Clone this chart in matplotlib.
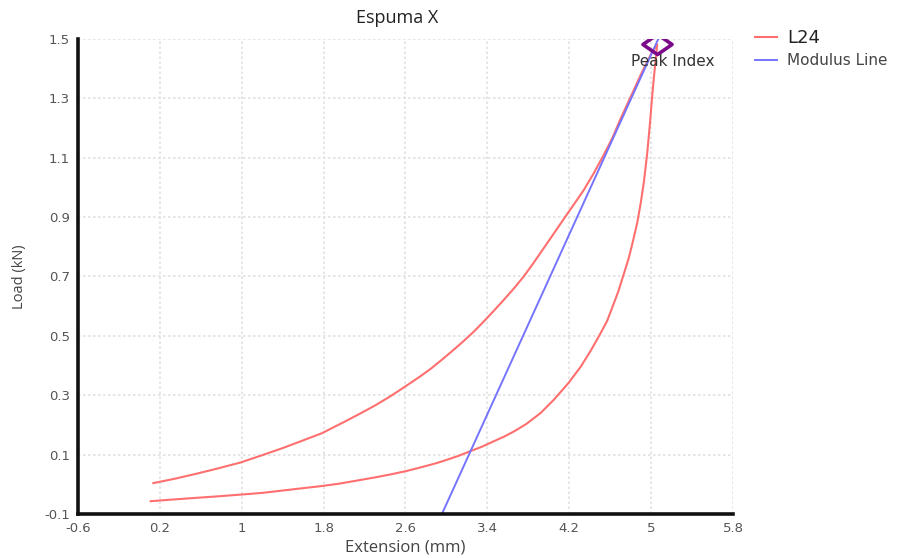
import matplotlib
matplotlib.use("Agg")
import matplotlib.pyplot as plt
from matplotlib.path import Path

# Load-extension loop for sample L24: loading branch (lower) ...
loading_x = [0.11, 0.3, 0.5, 0.75, 0.98, 1.2, 1.4, 1.6, 1.78, 1.95, 2.1, 2.3,
             2.45, 2.6, 2.75, 2.9, 3.0, 3.12, 3.23, 3.35, 3.45, 3.56, 3.66, 3.78,
             3.92, 4.05, 4.19, 4.31, 4.41, 4.5, 4.57, 4.62, 4.68, 4.73, 4.78,
             4.82, 4.864, 4.9, 4.93, 4.962, 4.99, 5.01, 5.03, 5.045, 5.06]
loading_y = [-0.057, -0.052, -0.047, -0.041, -0.035, -0.029, -0.021, -0.013,
             -0.006, 0.002, 0.011, 0.023, 0.033, 0.044, 0.057, 0.071, 0.082,
             0.096, 0.111, 0.127, 0.143, 0.16, 0.178, 0.203, 0.24, 0.285, 0.34,
             0.395, 0.45, 0.505, 0.55, 0.595, 0.65, 0.705, 0.76, 0.815, 0.88,
             0.95, 1.02, 1.115, 1.22, 1.306, 1.38, 1.43, 1.482]
# ... and unloading branch (upper), from the peak back down
unloading_x = [5.06, 5.0, 4.9, 4.8, 4.7, 4.62, 4.53, 4.44, 4.34, 4.25, 4.163,
               4.05, 3.95, 3.85, 3.755, 3.66, 3.56, 3.47, 3.38, 3.27, 3.16, 3.06,
               2.957, 2.85, 2.75, 2.6, 2.45, 2.3, 2.15, 2.0, 1.783, 1.6, 1.4,
               1.2, 0.984, 0.75, 0.55, 0.35, 0.136]
unloading_y = [1.482, 1.45, 1.38, 1.305, 1.23, 1.165, 1.105, 1.048, 0.99, 0.945,
               0.902, 0.845, 0.795, 0.745, 0.700, 0.66, 0.621, 0.587, 0.554,
               0.515, 0.48, 0.45, 0.42, 0.39, 0.365, 0.33, 0.296, 0.265, 0.237,
               0.21, 0.172, 0.148, 0.122, 0.098, 0.073, 0.052, 0.035, 0.019,
               0.004]

# Modulus line end points
modulus_x = [2.956, 5.07]
modulus_y = [-0.1, 1.5]

# Peak point
peak_x = 5.06
peak_y = 1.482

x_ticks = [-0.6, 0.2, 1, 1.8, 2.6, 3.4, 4.2, 5, 5.8]
x_tick_labels = ["-0.6", "0.2", "1", "1.8", "2.6", "3.4", "4.2", "5", "5.8"]
y_ticks = [-0.1, 0.1, 0.3, 0.5, 0.7, 0.9, 1.1, 1.3, 1.5]
y_tick_labels = ["-0.1", "0.1", "0.3", "0.5", "0.7", "0.9", "1.1", "1.3", "1.5"]

plt.rcParams["font.family"] = ["DejaVu Sans"]

fig = plt.figure(figsize=(9.02, 5.58), dpi=100)
ax = fig.add_axes([0.0865, 0.0789, 0.7261, 0.8512])

red = "#ff6f6f"
blue = "#7474ff"

ax.plot(loading_x + unloading_x[1:], loading_y + unloading_y[1:],
        color=red, lw=1.5, label="L24", zorder=3)
ax.plot(modulus_x, modulus_y, color=blue, lw=1.4, label="Modulus Line", zorder=3)

# Wide open diamond marking the peak
diamond = Path([(-1.45, 0), (0, 1), (1.45, 0), (0, -1), (-1.45, 0)],
               [Path.MOVETO, Path.LINETO, Path.LINETO, Path.LINETO, Path.CLOSEPOLY])
ax.plot([peak_x], [peak_y], marker=diamond, markersize=21, mfc="none",
        mec="#7a0a8a", mew=2.6, ls="none", zorder=4)
ax.text(peak_x + 0.15, peak_y - 0.058, "Peak Index", ha="center", va="center",
        fontsize=11, color="#333333", zorder=5)

ax.set_xlim(-0.6, 5.8)
ax.set_ylim(-0.1, 1.5)
ax.set_xticks(x_ticks)
ax.set_xticklabels(x_tick_labels)
ax.set_yticks(y_ticks)
ax.set_yticklabels(y_tick_labels)
ax.tick_params(length=0, labelsize=9.5, labelcolor="#555555", pad=6)

ax.grid(True, color="#e2e2e2", lw=1.2, ls=(0, (1.5, 1.5)))
ax.set_axisbelow(True)
for s in ("top", "right"):
    ax.spines[s].set_visible(False)
for s in ("left", "bottom"):
    ax.spines[s].set_linewidth(2.6)
    ax.spines[s].set_color("#111111")
    ax.spines[s].set_zorder(6)

label_font = ["Open Sans", "DejaVu Sans"]
ax.set_xlabel("Extension (mm)", fontsize=12, color="#444444", labelpad=3,
              family=label_font)
ax.set_ylabel("Load (kN)", fontsize=10.5, color="#444444", labelpad=12,
              family=label_font)
fig.text(397 / 902, 1 - 18 / 558, "Espuma X", ha="center", va="center",
         fontsize=13, color="#222222", family=label_font)

leg = fig.legend(loc="upper left", bbox_to_anchor=(0.8215, 0.9735), frameon=False,
                 handlelength=1.45, handletextpad=0.65, labelspacing=0.45,
                 fontsize=11)
texts = leg.get_texts()
texts[0].set_fontsize(13)
texts[0].set_color("#222222")
texts[1].set_color("#444444")

fig.savefig("out.png", dpi=100)
